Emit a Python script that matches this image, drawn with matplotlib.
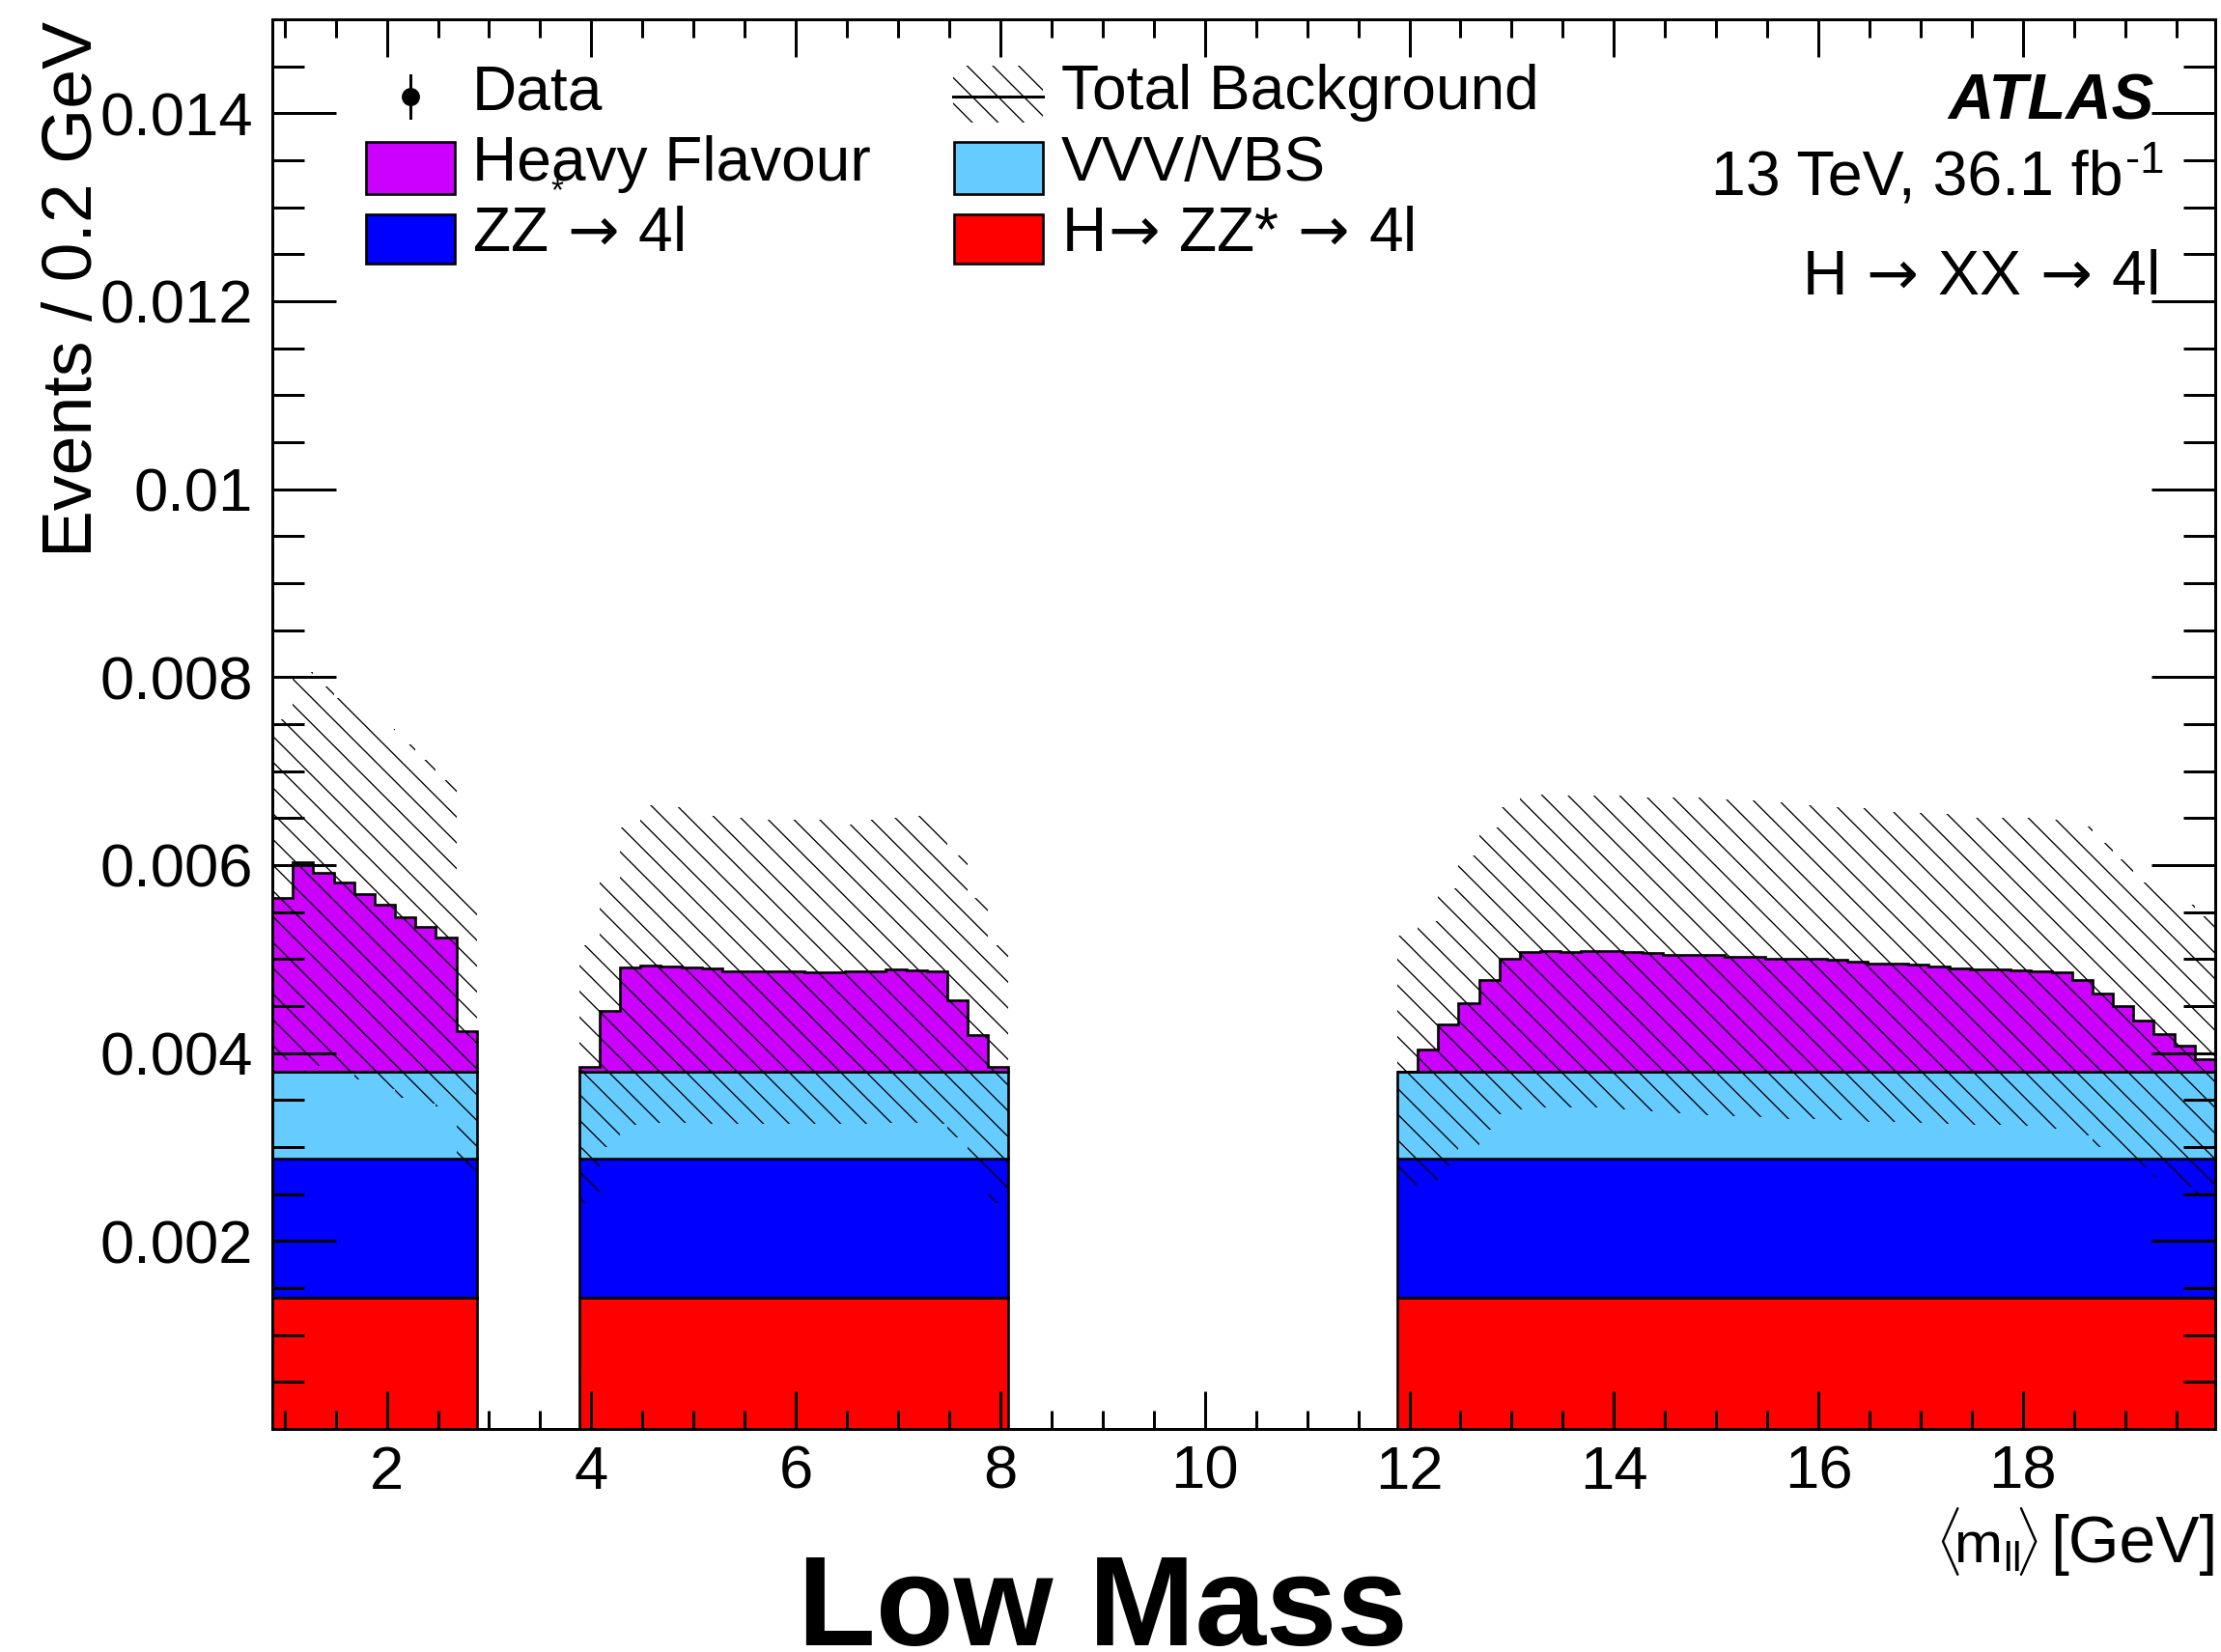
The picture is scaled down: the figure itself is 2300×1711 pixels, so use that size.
import numpy as np
import matplotlib
matplotlib.use('Agg')
import matplotlib.pyplot as plt
from matplotlib.patches import Rectangle
from matplotlib.lines import Line2D
from matplotlib.ticker import FixedLocator, MultipleLocator

plt.rcParams['font.family'] = ['Liberation Sans', 'DejaVu Sans']
plt.rcParams['mathtext.fontset'] = 'custom'
plt.rcParams['mathtext.rm'] = 'Liberation Sans'
plt.rcParams['mathtext.it'] = 'Liberation Sans:italic'
plt.rcParams['mathtext.bf'] = 'Liberation Sans:bold'
plt.rcParams['hatch.linewidth'] = 0.6

# binning: 0.2 GeV bins in three mass windows (quarkonia regions vetoed)
bin_width = 0.2
region_lo = [0.88, 3.88, 11.88]
region_nbins = [10, 21, 40]

# flat backgrounds, events / 0.2 GeV
hzz_yield = 0.00140   # H -> ZZ* -> 4l
zz_yield = 0.00148    # ZZ -> 4l
vvv_yield = 0.00092   # VVV/VBS

# heavy flavour per bin (x 1e-3)
hf_low = [1.85, 2.235, 2.12, 2.01, 1.89, 1.78, 1.65, 1.54, 1.43, 0.435]
hf_mid = [0.05, 0.65, 1.109, 1.127, 1.12, 1.115, 1.097, 1.074, 1.074, 1.065, 1.065,
          1.06, 1.06, 1.069, 1.074, 1.088, 1.083, 1.065, 0.765, 0.394, 0.05]
hf_high = [0.006, 0.237, 0.500, 0.732, 0.981, 1.208, 1.274, 1.288, 1.279, 1.284,
           1.284, 1.274, 1.265, 1.241, 1.246, 1.241, 1.226, 1.226, 1.208, 1.208,
           1.203, 1.189, 1.175, 1.152, 1.152, 1.137, 1.123, 1.104, 1.095, 1.095,
           1.085, 1.067, 1.062, 0.981, 0.835, 0.699, 0.548, 0.406, 0.274, 0.133]

# total background uncertainty band, upper / lower edge (x 1e-3)
band_up_low = [7.55, 8.05, 7.9, 7.78, 7.62, 7.45, 7.28, 7.12, 6.9, 5.72]
band_dn_low = [3.92, 3.90, 3.86, 3.80, 3.72, 3.62, 3.52, 3.46, 3.43, 2.75]
band_up_mid = [5.15, 5.85, 6.40, 6.64, 6.62, 6.59, 6.52, 6.50, 6.49, 6.48, 6.48,
               6.48, 6.47, 6.43, 6.48, 6.50, 6.52, 6.47, 6.10, 5.65, 5.15]
band_dn_mid = [2.40, 3.00, 3.24, 3.26, 3.26, 3.26, 3.25, 3.25, 3.25, 3.25, 3.25,
               3.25, 3.25, 3.25, 3.25, 3.26, 3.26, 3.25, 3.10, 2.75, 2.40]
band_up_high = [5.25, 5.40, 5.75, 6.10, 6.40, 6.62, 6.74, 6.75, 6.74, 6.74,
                6.74, 6.74, 6.72, 6.715, 6.715, 6.71, 6.70, 6.69, 6.67, 6.65,
                6.64, 6.62, 6.61, 6.60, 6.57, 6.55, 6.54, 6.53, 6.50, 6.50,
                6.50, 6.49, 6.48, 6.41, 6.24, 6.06, 5.82, 5.72, 5.58, 5.46]
band_dn_high = [2.55, 2.62, 2.80, 3.00, 3.18, 3.35, 3.40, 3.42, 3.42, 3.42,
                3.41, 3.40, 3.38, 3.36, 3.35, 3.34, 3.33, 3.32, 3.31, 3.30,
                3.30, 3.29, 3.28, 3.27, 3.27, 3.26, 3.25, 3.25, 3.24, 3.24,
                3.23, 3.22, 3.20, 3.12, 3.00, 2.90, 2.78, 2.68, 2.58, 2.50]

x_ticks = [2, 4, 6, 8, 10, 12, 14, 16, 18]
x_ticklabels = ['2', '4', '6', '8', '10', '12', '14', '16', '18']
y_ticks = [0.002, 0.004, 0.006, 0.008, 0.010, 0.012, 0.014]
y_ticklabels = ['0.002', '0.004', '0.006', '0.008', '0.01', '0.012', '0.014']

c_red = '#ff0000'
c_blue = '#0000ff'
c_lblue = '#66ccff'
c_purple = '#cc00ff'

W, H, DPI = 2300, 1711, 160
fig = plt.figure(figsize=(W / DPI, H / DPI), dpi=DPI)

def px(x, y):
    # full-size pixel position -> figure fraction
    return x / W, 1 - y / H

ax = fig.add_axes([282 / W, 1 - 1480 / H, (2294 - 282) / W, (1480 - 20) / H])
ax.set_axisbelow(False)

regions = zip(region_lo, region_nbins, [hf_low, hf_mid, hf_high],
              [band_up_low, band_up_mid, band_up_high],
              [band_dn_low, band_dn_mid, band_dn_high])
for lo, n, hf, up, dn in regions:
    edges = lo + bin_width * np.arange(n + 1)
    layers = [(np.full(n, hzz_yield), c_red),
              (np.full(n, zz_yield), c_blue),
              (np.full(n, vvv_yield), c_lblue),
              (np.array(hf) * 1e-3, c_purple)]
    base = np.zeros(n)
    for vals, col in layers:
        top = base + vals
        ax.stairs(top, edges, baseline=base, fill=True, facecolor=col,
                  edgecolor='black', linewidth=1.2, zorder=1)
        base = top
    ax.stairs(np.array(up) * 1e-3, edges, baseline=np.array(dn) * 1e-3, fill=True,
              facecolor='none', edgecolor='black', linewidth=0, hatch='\\\\', zorder=1.2)

ax.set_xlim(0.88, 19.88)
ax.set_ylim(0, 0.015)
ax.xaxis.set_major_locator(FixedLocator(x_ticks))
ax.set_xticklabels(x_ticklabels)
ax.xaxis.set_minor_locator(MultipleLocator(0.5))
ax.yaxis.set_major_locator(FixedLocator(y_ticks))
ax.set_yticklabels(y_ticklabels)
ax.yaxis.set_minor_locator(MultipleLocator(0.0005))
ax.tick_params(which='both', direction='in', top=True, right=True, width=1.35,
               labelsize=28.5, color='black')
ax.tick_params(axis='x', which='major', length=17.5, pad=7)
ax.tick_params(axis='x', which='minor', length=8.5)
ax.tick_params(axis='y', which='major', length=29.7, pad=9)
ax.tick_params(axis='y', which='minor', length=14.8)
for s in ax.spines.values():
    s.set_linewidth(1.35)

renderer = fig.canvas.get_renderer()

# axis titles
fig.text(*px(110, 22), 'Events / 0.2 GeV', rotation=90, ha='right', va='top', fontsize=33)
t_gev = fig.text(*px(2296, 1618), '[GeV]', ha='right', va='baseline', fontsize=30.5)
gev_x0 = t_gev.get_window_extent(renderer).x0
fig.text(*px(gev_x0 - 12, 1618), r'$\langle\!\mathrm{m}_{\mathrm{ll}}\!\rangle$',
         ha='right', va='baseline', fontsize=27)
fig.text(*px(1142, 1704), 'Low Mass', ha='center', va='baseline', fontsize=59.5,
         fontweight='bold')

# ATLAS labels
arrow_txt = dict(math_fontfamily='dejavusans')
fig.text(*px(2231, 123), 'ATLAS', ha='right', va='baseline', fontsize=29.5,
         fontweight='bold', fontstyle='italic')
fig.text(*px(2199, 201), '13 TeV, 36.1 fb', ha='right', va='baseline', fontsize=29)
fig.text(*px(2201, 179), '-1', ha='left', va='baseline', fontsize=20.5)
fig.text(*px(2235, 305), r'H $\!\rightarrow\!$ XX $\!\rightarrow\!$ 4l', ha='right',
         va='baseline', fontsize=29, **arrow_txt)

# legend
lw = 1.2
fx, fy1 = px(425, 78)
_, fy2 = px(425, 122)
fig.add_artist(Line2D([fx, fx], [fy1, fy2], transform=fig.transFigure, color='black', lw=1.35))
fig.add_artist(Line2D([fx], [px(425, 100)[1]], transform=fig.transFigure, color='black',
                      marker='o', markersize=7.5, linestyle='none'))

def box(x0, y0, x1, y1, **kw):
    bx, by = px(x0, y1)
    fig.add_artist(Rectangle((bx, by), (x1 - x0) / W, (y1 - y0) / H,
                             transform=fig.transFigure, **kw))

box(987, 68, 1080, 127, facecolor='none', edgecolor='black', linewidth=0, hatch='\\\\')
fig.add_artist(Line2D([987 / W, 1080 / W], [px(0, 100)[1]] * 2, transform=fig.transFigure,
                      color='black', lw=1.35))
box(379, 147, 471, 201, facecolor=c_purple, edgecolor='black', linewidth=lw)
box(379, 222, 471, 273, facecolor=c_blue, edgecolor='black', linewidth=lw)
box(988, 147, 1080, 201, facecolor=c_lblue, edgecolor='black', linewidth=lw)
box(988, 222, 1080, 273, facecolor=c_red, edgecolor='black', linewidth=lw)

leg_fs = 28.8
fig.text(*px(489, 113), 'Data', ha='left', va='baseline', fontsize=leg_fs)
fig.text(*px(489, 187), 'Heavy Flavour', ha='left', va='baseline', fontsize=leg_fs)
fig.text(*px(489, 260), r'ZZ $\!\rightarrow\!$ 4l', ha='left', va='baseline',
         fontsize=leg_fs, **arrow_txt)
fig.text(*px(577, 207), '*', ha='center', va='baseline', fontsize=15)
fig.text(*px(1099, 113), 'Total Background', ha='left', va='baseline', fontsize=leg_fs)
fig.text(*px(1099, 187), 'VVV/VBS', ha='left', va='baseline', fontsize=leg_fs)
fig.text(*px(1099, 260), r'H$\!\rightarrow\!$ ZZ* $\!\rightarrow\!$ 4l', ha='left',
         va='baseline', fontsize=leg_fs, **arrow_txt)

fig.savefig('out.png', dpi=DPI)
